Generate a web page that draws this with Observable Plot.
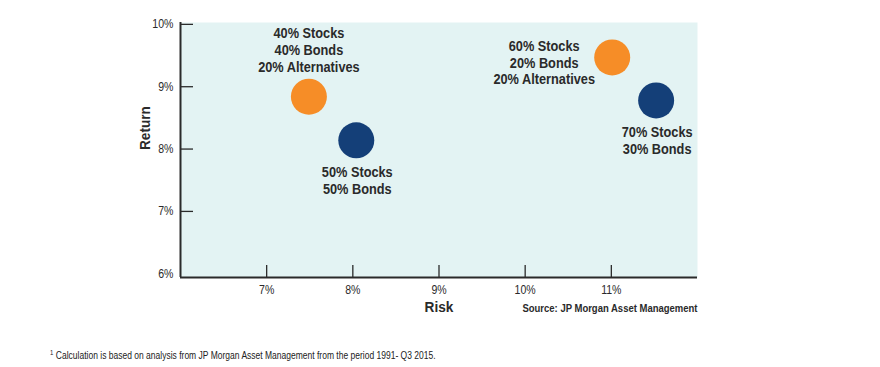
<!DOCTYPE html>
<html>
<head>
<meta charset="utf-8">
<script src="https://cdn.jsdelivr.net/npm/d3@7"></script>
<script src="https://cdn.jsdelivr.net/npm/@observablehq/plot@0.6"></script>
<style>
  body { margin: 0; background: #fff; }
  #wrap { position: relative; width: 880px; height: 367px; font-family: "Liberation Sans", Arial, sans-serif; }
  #foot { position: absolute; left: 50px; top: 349px; font-size: 10px; color: #222; white-space: nowrap; transform: scaleX(0.85); transform-origin: 0 0; }
  #foot sup { font-size: 7px; vertical-align: 4px; margin-right: 3px; }
</style>
</head>
<body>
<div id="wrap">
  <div id="chart"></div>
  <div id="foot"><sup>1</sup>Calculation is based on analysis from JP Morgan Asset Management from the period 1991- Q3 2015.</div>
</div>
<script>
// Portfolios
const portfolios = ["40/40/20", "50/50", "60/20/20", "70/30"];
const riskValues = [7.49, 8.04, 11.01, 11.52];
const returnValues = [8.84, 8.14, 9.47, 8.78];
const kinds = ["alt", "plain", "alt", "plain"];
const labels = [
  "40% Stocks\n40% Bonds\n20% Alternatives",
  "50% Stocks\n50% Bonds",
  "60% Stocks\n20% Bonds\n20% Alternatives",
  "70% Stocks\n30% Bonds"
];
const labelPlacement = ["above", "below", "left", "below"];

// Axis ticks
const xTicks = [7, 8, 9, 10, 11];
const yTicks = [6, 7, 8, 9, 10];

const data = portfolios.map((p, i) => ({
  name: p, risk: riskValues[i], ret: returnValues[i], kind: kinds[i],
  label: labels[i], place: labelPlacement[i]
}));

const font = '"Liberation Sans", Arial, sans-serif';
const W = 880, H = 330;
const mL = 180, mR = 183, mT = 22, mB = 53;
const innerW = W - mL - mR, innerH = H - mT - mB;
const ink = "#2a2a2a";

const chart = Plot.plot({
  width: W, height: H,
  marginLeft: mL, marginRight: mR, marginTop: mT, marginBottom: mB,
  style: { fontFamily: font, background: "transparent", color: ink },
  x: { domain: [6, 12] },
  y: { domain: [5.94, 10.03] },
  color: { domain: ["alt", "plain"], range: ["#F68D27", "#143F78"] },
  marks: [
    Plot.frame({ fill: "#E3F3F3", stroke: null }),
    // inward ticks
    Plot.ruleX(xTicks, { stroke: ink, strokeWidth: 1.3, insetTop: innerH - 12 }),
    Plot.ruleY(yTicks.filter(d => d > 6), { stroke: ink, strokeWidth: 1.3, insetRight: innerW - 13 }),
    // axis lines
    Plot.ruleX([6], { stroke: ink, strokeWidth: 2 }),
    Plot.ruleY([5.94], { stroke: ink, strokeWidth: 2 }),
    Plot.axisX({ ticks: xTicks, tickSize: 0, tickPadding: 8, tickFormat: d => d + "%", fontSize: 12, label: null }),
    Plot.axisY({ ticks: yTicks, tickSize: 0, tickPadding: 7, tickFormat: d => d + "%", fontSize: 12, label: null }),
    Plot.dot(data, { x: "risk", y: "ret", r: 18, fill: "kind", stroke: null }),
    Plot.text(data.filter(d => d.place === "above"), {
      x: "risk", y: "ret", text: "label", lineAnchor: "bottom", dy: -25,
      fontSize: 14.5, fontWeight: "bold", lineHeight: 1.15, fill: ink
    }),
    Plot.text(data.filter(d => d.place === "below"), {
      x: "risk", y: "ret", text: "label", lineAnchor: "top", dy: 25, dx: 1,
      fontSize: 14.5, fontWeight: "bold", lineHeight: 1.15, fill: ink
    }),
    Plot.text(data.filter(d => d.place === "left"), {
      x: "risk", y: "ret", text: "label", lineAnchor: "middle", dy: 5, dx: -68,
      fontSize: 14.5, fontWeight: "bold", lineHeight: 1.15, fill: ink
    }),
    Plot.text(["Return"], { frameAnchor: "left", rotate: -90, dx: -35, fontSize: 15.5, fontWeight: "bold", fill: ink }),
    Plot.text(["Risk"], { frameAnchor: "bottom", dy: 34, fontSize: 15.5, fontWeight: "bold", fill: ink }),
    Plot.text(["Source: JP Morgan Asset Management"], { frameAnchor: "bottom-right", textAnchor: "end", dy: 34, fontSize: 10.8, fontWeight: "bold", fill: ink })
  ]
});
// condensed look: narrow every text horizontally around its anchor
d3.select(chart).selectAll("text").each(function () {
  const t = this.getAttribute("transform") || "";
  this.setAttribute("transform", (t + " scale(0.88,1)").trim());
});
document.getElementById("chart").appendChild(chart);
</script>
</body>
</html>
